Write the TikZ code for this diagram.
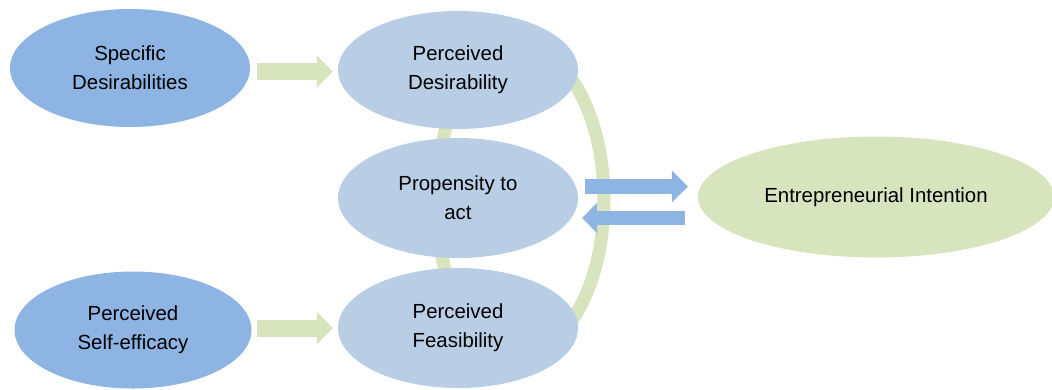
\documentclass[tikz,border=0pt]{standalone}
\usepackage{fontspec}
\setmainfont{Liberation Sans}
\usetikzlibrary{shapes.geometric,arrows.meta}
\definecolor{dkblue}{HTML}{8EB4E3}
\definecolor{ltblue}{HTML}{B9CDE5}
\definecolor{ltgreen}{HTML}{D7E4BD}
\tikzset{
  oval/.style={ellipse, inner sep=0pt, minimum width=240pt, minimum height=118pt,
    align=center, font=\fontsize{20.4}{29}\selectfont},
  darkoval/.style={oval, fill=dkblue},
  lightoval/.style={oval, fill=ltblue},
  greenoval/.style={oval, fill=ltgreen},
  greenarrow/.style={draw=ltgreen, line width=17pt, -{Triangle[width=31pt,length=16pt]}},
  bluearrow/.style={draw=dkblue, line width=15pt, -{Triangle[width=31pt,length=16pt]}},
  ring/.style={draw=ltgreen, line width=13pt},
}
\begin{document}
\begin{tikzpicture}[x=1pt,y=-1pt]
\useasboundingbox (0,0) rectangle (1052,389);
\draw[ring] (520,200) ellipse [x radius=84pt, y radius=153pt];
\node[darkoval] (sd) at (130,68) {Specific\\Desirabilities};
\node[lightoval] (pd) at (458,70) {Perceived\\Desirability};
\node[lightoval, minimum height=120pt] (pa) at (458,198) {Propensity to\\act};
\node[darkoval, minimum width=237pt, minimum height=117pt] (se) at (133,330) {Perceived\\Self-efficacy};
\node[lightoval, minimum height=120pt] (pf) at (458,328) {Perceived\\Feasibility};
\node[greenoval, minimum width=356pt, minimum height=121pt] (ei) at (876,197) {Entrepreneurial Intention};
\draw[greenarrow, shorten <=7pt, shorten >=5pt] ([yshift=-3.5pt]sd.east) -- ([yshift=-3.5pt]sd.east -| pd.west);
\draw[greenarrow, shorten <=5pt, shorten >=5pt] ([yshift=2pt]se.east) -- ([yshift=2pt]se.east -| pf.west);
\draw[bluearrow, shorten <=7pt, shorten >=10pt] ([yshift=11.5pt]pa.east) -- ([yshift=11.5pt]pa.east -| ei.west);
\draw[bluearrow, line width=14pt, -{Triangle[width=30pt,length=15pt]}, shorten <=13pt, shorten >=4pt] ([yshift=-20pt]pa.east -| ei.west) -- ([yshift=-20pt]pa.east);
\end{tikzpicture}
\end{document}
